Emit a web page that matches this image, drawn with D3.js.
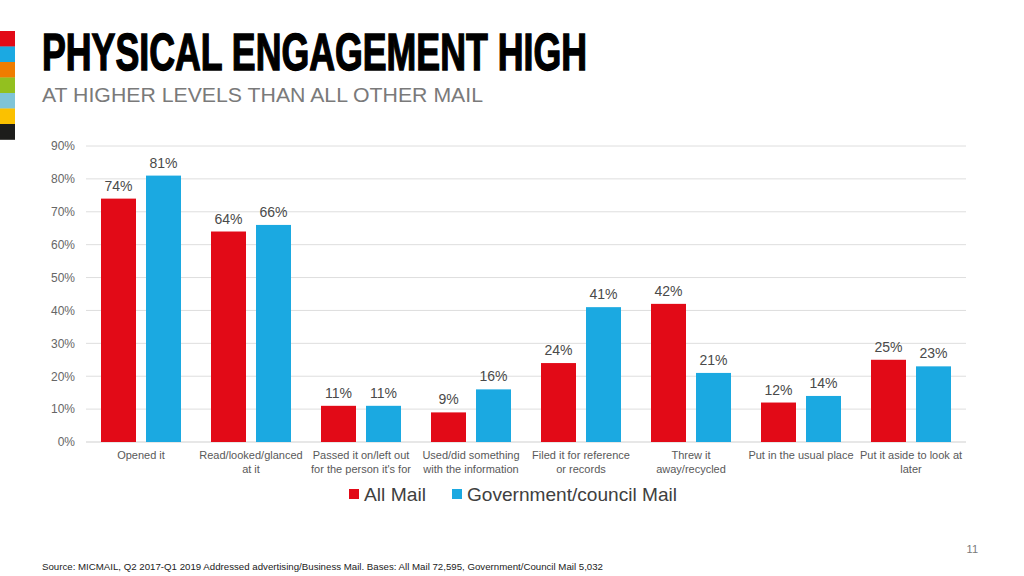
<!DOCTYPE html>
<html><head><meta charset="utf-8">
<script src="https://cdn.jsdelivr.net/npm/d3@7"></script>
<style>body{margin:0;background:#fff;} svg{display:block;}</style>
</head><body>
<svg id="c" width="1024" height="576"></svg>
<script>
const categories = [["Opened it"],["Read/looked/glanced","at it"],["Passed it on/left out","for the person it's for"],["Used/did something","with the information"],["Filed it for reference","or records"],["Threw it","away/recycled"],["Put in the usual place"],["Put it aside to look at","later"]];
const allMail = [74,64,11,9,24,42,12,25];
const govMail = [81,66,11,16,41,21,14,23];
const seriesNames = ["All Mail","Government/council Mail"];
const yTicks = [0,10,20,30,40,50,60,70,80,90];
const stripColors = ["#e20a17","#1ba9e2","#ef7d00","#93c01f","#7fc4d7","#fbc100","#1d1d1b"];
const colors = ["#e20a17","#1ba9e1"];

const svg = d3.select("#c");
const font = "Liberation Sans, Arial, sans-serif";

// left strip
const ys = d3.scaleBand().domain(d3.range(stripColors.length)).range([31,139.5]);
svg.selectAll("rect.strip").data(stripColors).join("rect")
  .attr("x",0).attr("y",(d,i)=>ys(i)).attr("width",15).attr("height",ys.bandwidth()+0.3).attr("fill",d=>d);

// title
svg.append("text").attr("x",42).attr("y",70).text("PHYSICAL ENGAGEMENT HIGH")
  .attr("font-family","Liberation Sans Narrow, Arial Narrow, sans-serif").attr("font-weight","bold")
  .attr("font-size",51).attr("fill","#000").attr("textLength",545).attr("lengthAdjust","spacingAndGlyphs")
  .attr("stroke","#000").attr("stroke-width",1.4);
svg.append("text").attr("x",42).attr("y",102).text("AT HIGHER LEVELS THAN ALL OTHER MAIL")
  .attr("font-family",font).attr("font-size",19.5).attr("fill","#7a7a7a").attr("textLength",441).attr("lengthAdjust","spacingAndGlyphs");

const x0 = d3.scaleBand().domain(d3.range(categories.length)).range([86,966]);
const y = d3.scaleLinear().domain([0,90]).range([442,146]);

// gridlines
svg.selectAll("line.grid").data(yTicks).join("line")
  .attr("x1",86).attr("x2",966).attr("y1",d=>y(d)).attr("y2",d=>y(d))
  .attr("stroke",d=>d===0?"#cfcfcf":"#dedede").attr("stroke-width",1);

const yAxis = d3.axisLeft(y).tickValues(yTicks).tickFormat(d=>d+"%").tickSize(0).tickPadding(0);
const gy = svg.append("g").attr("transform","translate(75,0)").call(yAxis);
gy.select(".domain").remove();
gy.selectAll("text").attr("font-family",font).attr("font-size",12).attr("fill","#666");

const bw = 35, gap = 10;
const series = [allMail, govMail];
series.forEach((vals,s)=>{
  const g = svg.append("g");
  const xpos = i => x0(i)+x0.bandwidth()/2 + (s===0 ? -gap/2-bw : gap/2);
  g.selectAll("rect").data(vals).join("rect")
    .attr("x",(d,i)=>xpos(i)).attr("y",d=>y(d)).attr("width",bw).attr("height",d=>y(0)-y(d))
    .attr("fill",colors[s]);
  g.selectAll("text").data(vals).join("text")
    .attr("x",(d,i)=>xpos(i)+bw/2).attr("y",d=>y(d)-8).attr("text-anchor","middle")
    .attr("font-family",font).attr("font-size",14).attr("fill","#4a4a4a").text(d=>d+"%");
});

// category labels
const cg = svg.append("g");
categories.forEach((lines,i)=>{
  const t = cg.append("text").attr("text-anchor","middle").attr("font-family",font).attr("font-size",11).attr("fill","#595959");
  lines.forEach((l,k)=>{
    t.append("tspan").attr("x",x0(i)+x0.bandwidth()/2).attr("y",459+k*13.5).text(l);
  });
});

// legend
const lg = svg.append("g");
const lx = [349,452];
const lw = [62,210];
seriesNames.forEach((n,i)=>{
  lg.append("rect").attr("x",lx[i]).attr("y",489).attr("width",10).attr("height",10).attr("fill",colors[i]);
  lg.append("text").attr("x",lx[i]+15).attr("y",501).attr("font-family",font).attr("font-size",18.5).attr("fill","#404040")
    .attr("textLength",lw[i]).attr("lengthAdjust","spacingAndGlyphs").text(n);
});

svg.append("text").attr("x",978).attr("y",553).attr("text-anchor","end").attr("font-family",font).attr("font-size",11).attr("fill","#7a7a7a").text("11");
svg.append("text").attr("x",42).attr("y",570).attr("font-family",font).attr("font-size",9.5).attr("fill","#222")
  .attr("textLength",561).attr("lengthAdjust","spacingAndGlyphs")
  .text("Source: MICMAIL, Q2 2017-Q1 2019 Addressed advertising/Business Mail.  Bases:  All Mail 72,595, Government/Council Mail 5,032");
</script>
</body></html>
